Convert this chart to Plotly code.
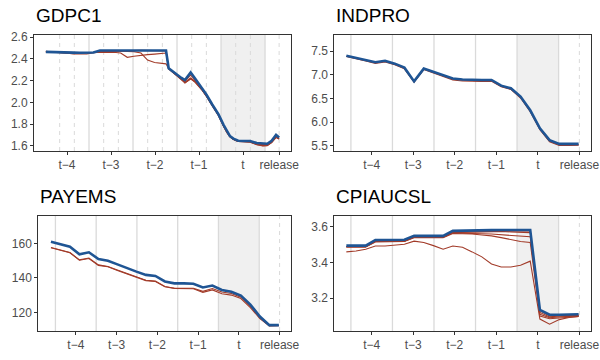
import plotly.graph_objects as go

# x positions are periods relative to t-4 (quarters for GDPC1, months for the rest)
TICK_TEXT = ["t\u22124", "t\u22123", "t\u22122", "t\u22121", "t", "release"]

# GDPC1 -------------------------------------------------------------------------
gdp_x = [-0.48, -0.32, -0.17, -0.02, 0.14, 0.29, 0.45, 0.60, 0.75, 0.91, 1.06,
         1.22, 1.37, 1.52, 1.68, 1.83, 1.99, 2.14, 2.25, 2.31, 2.45, 2.60, 2.68,
         2.81, 2.91, 3.06, 3.17, 3.30, 3.44, 3.56, 3.63, 3.70, 3.78, 3.89, 4.02,
         4.16, 4.31, 4.45, 4.55, 4.65, 4.75, 4.82]
gdp_latest = [2.465, 2.462, 2.458, 2.457, 2.458, 2.457, 2.458, 2.460, 2.478, 2.478,
              2.478, 2.478, 2.479, 2.479, 2.480, 2.480, 2.480, 2.480, 2.478, 2.315,
              2.270, 2.225, 2.205, 2.275, 2.220, 2.135, 2.070, 1.980, 1.890, 1.790,
              1.735, 1.690, 1.665, 1.645, 1.643, 1.643, 1.625, 1.617, 1.618, 1.645,
              1.700, 1.675]
gdp_v1 = [2.470, 2.466, 2.460, 2.455, 2.446, 2.445, 2.447, 2.458, 2.462, 2.470,
          2.476, 2.477, 2.478, 2.478, 2.479, 2.479, 2.479, 2.479, 2.477, 2.312,
          2.268, 2.220, 2.195, 2.250, 2.205, 2.125, 2.062, 1.975, 1.885, 1.785,
          1.730, 1.688, 1.662, 1.642, 1.640, 1.640, 1.620, 1.610, 1.612, 1.640,
          1.690, 1.670]
gdp_v2 = [2.466, 2.462, 2.456, 2.455, 2.457, 2.458, 2.460, 2.462, 2.462, 2.462,
          2.462, 2.455, 2.415, 2.425, 2.435, 2.440, 2.445, 2.452, 2.455, 2.310,
          2.265, 2.215, 2.185, 2.225, 2.195, 2.120, 2.058, 1.970, 1.880, 1.780,
          1.725, 1.685, 1.660, 1.640, 1.638, 1.636, 1.615, 1.603, 1.605, 1.632,
          1.680, 1.665]
gdp_v3 = [2.464, 2.460, 2.456, 2.456, 2.457, 2.456, 2.457, 2.459, 2.465, 2.470,
          2.472, 2.472, 2.470, 2.468, 2.455, 2.390, 2.368, 2.358, 2.355, 2.308,
          2.262, 2.212, 2.180, 2.215, 2.190, 2.118, 2.055, 1.968, 1.878, 1.778,
          1.722, 1.682, 1.657, 1.638, 1.636, 1.632, 1.610, 1.598, 1.600, 1.628,
          1.675, 1.662]
gdp_v4 = [2.466, 2.463, 2.459, 2.458, 2.459, 2.458, 2.459, 2.461, 2.475, 2.477,
          2.477, 2.477, 2.478, 2.478, 2.479, 2.479, 2.479, 2.479, 2.476, 2.310,
          2.262, 2.215, 2.178, 2.220, 2.185, 2.118, 2.055, 1.968, 1.880, 1.780,
          1.725, 1.683, 1.660, 1.640, 1.638, 1.635, 1.612, 1.600, 1.602, 1.630,
          1.678, 1.665]

# monthly series share one weekly grid ------------------------------------------
month_x = [-0.61, -0.377, -0.144, 0.089, 0.322, 0.555, 0.788, 1.021, 1.254, 1.487,
           1.72, 1.953, 2.186, 2.419, 2.652, 2.885, 3.118, 3.351, 3.584, 3.817,
           4.05, 4.283, 4.516, 4.749, 4.982]

indpro_latest = [7.40, 7.36, 7.31, 7.265, 7.295, 7.235, 7.15, 6.86, 7.13, 7.065,
                 6.99, 6.92, 6.90, 6.89, 6.89, 6.89, 6.77, 6.715, 6.54, 6.25,
                 5.87, 5.62, 5.54, 5.54, 5.54]
indpro_v1 = [7.385, 7.345, 7.29, 7.24, 7.27, 7.21, 7.125, 6.845, 7.11, 7.04,
             6.965, 6.89, 6.87, 6.86, 6.86, 6.865, 6.745, 6.69, 6.51, 6.22,
             5.84, 5.585, 5.505, 5.505, 5.51]
indpro_v2 = [7.39, 7.352, 7.30, 7.255, 7.285, 7.225, 7.14, 6.853, 7.12, 7.052,
             6.978, 6.905, 6.885, 6.875, 6.875, 6.878, 6.758, 6.70, 6.525, 6.235,
             5.855, 5.60, 5.52, 5.52, 5.525]

payems_latest = [160.9, 159.6, 158.0, 153.6, 154.8, 150.9, 149.9, 147.8, 145.6, 143.6,
                 141.7, 141.1, 137.9, 136.8, 136.8, 136.6, 134.4, 135.5, 133.0, 131.9,
                 129.7, 124.5, 117.6, 112.6, 112.6]
payems_v1 = [157.4, 156.0, 154.5, 150.2, 151.2, 147.2, 146.4, 144.3, 142.2, 140.1,
             138.4, 137.9, 134.8, 133.9, 133.9, 133.7, 131.6, 133.0, 130.8, 130.0,
             128.0, 122.8, 116.4, 112.1, 112.3]
payems_v2 = [157.6, 156.2, 154.7, 150.4, 151.5, 147.5, 146.6, 144.5, 142.4, 140.4,
             138.6, 138.1, 135.0, 134.0, 134.1, 134.0, 132.2, 133.8, 131.8, 130.9,
             128.8, 123.6, 116.9, 112.3, 112.4]

cpi_latest = [3.495, 3.495, 3.495, 3.527, 3.527, 3.527, 3.528, 3.550, 3.550, 3.550,
              3.550, 3.578, 3.578, 3.578, 3.580, 3.582, 3.583, 3.583, 3.583, 3.583,
              3.135, 3.107, 3.107, 3.108, 3.110]
cpi_v1 = [3.488, 3.488, 3.488, 3.518, 3.520, 3.520, 3.520, 3.542, 3.543, 3.543,
          3.543, 3.568, 3.570, 3.572, 3.574, 3.576, 3.577, 3.577, 3.577, 3.577,
          3.130, 3.100, 3.103, 3.104, 3.105]
cpi_v2 = [3.460, 3.465, 3.475, 3.493, 3.493, 3.500, 3.503, 3.520, 3.513, 3.495,
          3.475, 3.493, 3.486, 3.460, 3.432, 3.392, 3.375, 3.375, 3.385, 3.408,
          3.083, 3.054, 3.080, 3.092, 3.098]
cpi_v3 = [3.490, 3.490, 3.490, 3.520, 3.520, 3.521, 3.522, 3.545, 3.545, 3.545,
          3.545, 3.571, 3.572, 3.572, 3.572, 3.573, 3.574, 3.572, 3.570, 3.568,
          3.120, 3.095, 3.100, 3.102, 3.103]
cpi_v4 = [3.489, 3.489, 3.489, 3.519, 3.520, 3.520, 3.520, 3.543, 3.543, 3.543,
          3.543, 3.566, 3.566, 3.564, 3.562, 3.560, 3.557, 3.552, 3.547, 3.545,
          3.110, 3.090, 3.095, 3.098, 3.100]
cpi_v5 = [3.487, 3.487, 3.487, 3.516, 3.517, 3.517, 3.518, 3.540, 3.540, 3.540,
          3.540, 3.563, 3.563, 3.560, 3.555, 3.550, 3.540, 3.530, 3.518, 3.513,
          3.100, 3.085, 3.090, 3.095, 3.097]

BLUE = "#1f5594"
RED = "#a23b29"
GRID = "#dadada"
SHADE = "#f0f0f0"
FONT = "Liberation Sans, Arial, sans-serif"
W, H = 600, 360

panels = [
    dict(title="GDPC1", x=gdp_x, latest=gdp_latest, vintages=[gdp_v1, gdp_v2, gdp_v3, gdp_v4],
         release=4.82, xrange=[-0.75, 5.09], yrange=[1.551, 2.621],
         yticks=[1.6, 1.8, 2.0, 2.2, 2.4, 2.6], fmt=".1f",
         box=(34, 291, 35, 151), monthly_marks=True, first_bound=False),
    dict(title="INDPRO", x=month_x, latest=indpro_latest, vintages=[indpro_v1, indpro_v2],
         release=5.0, xrange=[-0.90, 5.28], yrange=[5.39, 7.84],
         yticks=[5.5, 6.0, 6.5, 7.0, 7.5], fmt=".1f",
         box=(334.3, 591, 35, 151), monthly_marks=False, first_bound=True),
    dict(title="PAYEMS", x=month_x, latest=payems_latest, vintages=[payems_v1, payems_v2],
         release=5.0, xrange=[-0.92, 5.28], yrange=[109.2, 176],
         yticks=[120, 140, 160], fmt="d",
         box=(38.3, 291, 215.7, 331), monthly_marks=False, first_bound=True),
    dict(title="CPIAUCSL", x=month_x, latest=cpi_latest,
         vintages=[cpi_v1, cpi_v2, cpi_v3, cpi_v4, cpi_v5],
         release=5.0, xrange=[-0.90, 5.28], yrange=[3.016, 3.663],
         yticks=[3.2, 3.4, 3.6], fmt=".1f",
         box=(334.3, 591, 215.7, 331), monthly_marks=False, first_bound=True),
]

fig = go.Figure()
shapes = []
annotations = []
layout = {}

for i, p in enumerate(panels, start=1):
    xa = "x" if i == 1 else f"x{i}"
    ya = "y" if i == 1 else f"y{i}"
    x0, x1, y0, y1 = p["box"]

    for v in p["vintages"]:
        fig.add_trace(go.Scatter(x=p["x"], y=v, mode="lines", xaxis=xa, yaxis=ya,
                                 line=dict(color=RED, width=1.1), showlegend=False,
                                 hoverinfo="skip"))
    fig.add_trace(go.Scatter(x=p["x"], y=p["latest"], mode="lines", xaxis=xa, yaxis=ya,
                             line=dict(color=BLUE, width=2.6), showlegend=False))

    # shaded current period
    shapes.append(dict(type="rect", xref=xa, yref=f"{ya} domain", x0=3.5, x1=4.5,
                       y0=0, y1=1, fillcolor=SHADE, line_width=0, layer="below"))
    # period boundaries
    bounds = [0.5, 1.5, 2.5, 3.5, 4.5]
    if p["first_bound"]:
        bounds = [-0.5] + bounds
    for b in bounds:
        shapes.append(dict(type="line", xref=xa, yref=f"{ya} domain", x0=b, x1=b,
                           y0=0, y1=1, line=dict(color=GRID, width=1.3), layer="below"))
    # month marks inside quarters + release
    dashed = [p["release"]]
    if p["monthly_marks"]:
        for k in range(5):
            dashed += [k - 1 / 6, k + 1 / 6]
    for d in dashed:
        shapes.append(dict(type="line", xref=xa, yref=f"{ya} domain", x0=d, x1=d,
                           y0=0, y1=1, line=dict(color=GRID, width=1, dash="4px,4px"),
                           layer="below"))

    axis_common = dict(showgrid=False, zeroline=False, showline=True, mirror=True,
                       linecolor="#333333", linewidth=1, ticks="outside", ticklen=3,
                       tickcolor="#333333", tickwidth=1, automargin=False,
                       tickfont=dict(family=FONT, size=12, color="#4d4d4d"))
    layout["xaxis" if i == 1 else f"xaxis{i}"] = dict(
        axis_common, domain=[x0 / W, x1 / W], range=p["xrange"], anchor=ya,
        tickvals=[0, 1, 2, 3, 4, p["release"]], ticktext=TICK_TEXT)
    layout["yaxis" if i == 1 else f"yaxis{i}"] = dict(
        axis_common, domain=[1 - y1 / H, 1 - y0 / H], range=p["yrange"], anchor=xa,
        tickvals=p["yticks"], tickformat=p["fmt"])

    annotations.append(dict(text=p["title"], xref="paper", yref="paper",
                            x=x0 / W, y=1 - (y0 - 19) / H, xanchor="left", yanchor="middle",
                            showarrow=False, font=dict(family=FONT, size=19, color="black")))

fig.update_layout(**layout)
fig.update_layout(width=W, height=H, margin=dict(l=0, r=0, t=0, b=0),
                  paper_bgcolor="white", plot_bgcolor="white",
                  shapes=shapes, annotations=annotations, showlegend=False)

# page has a default 8px body margin; drop it so the figure sits at the window origin
fig.write_html("out.html", config={"displayModeBar": False},
               post_script="document.body.style.margin='0';")
